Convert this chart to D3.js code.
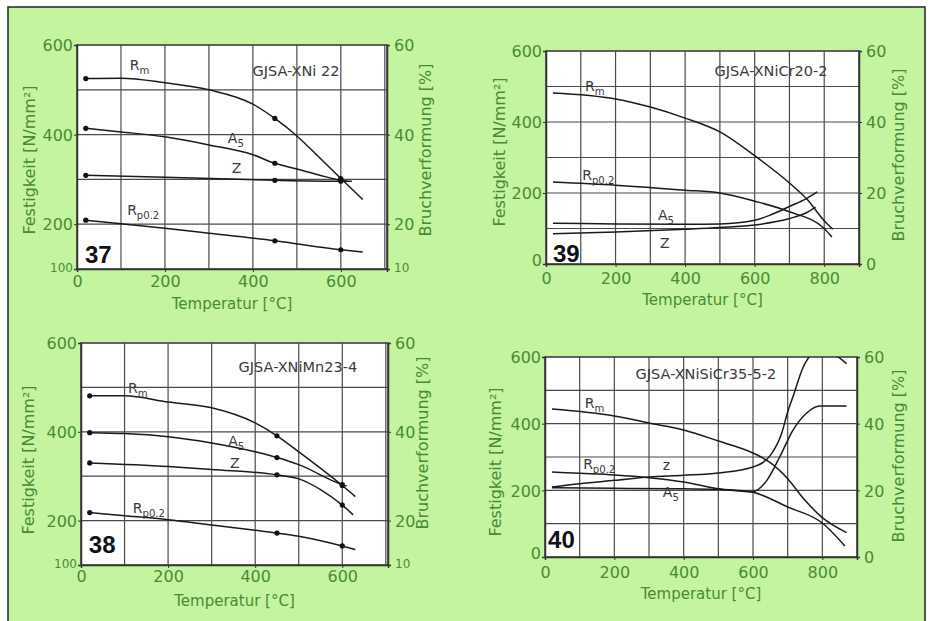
<!DOCTYPE html>
<html>
<head>
<meta charset="utf-8">
<title>Festigkeit und Bruchverformung austenitischer Gusseisen</title>
<script src="https://d3js.org/d3.v7.min.js"></script>
<style>
  body { margin: 0; background: #fff; }
  svg { display: block; }
  .tick { font-family: "DejaVu Sans", sans-serif; font-size: 16px; fill: #4a8a34; }
  .tick.small { font-size: 12px; }
  .atitle { font-family: "DejaVu Sans", sans-serif; fill: #4a8a34; }
  .grid { stroke: #4a4a4a; stroke-width: 1.2; }
  .frame { fill: #fff; stroke: #333; stroke-width: 1.5; }
  .curve { fill: none; stroke: #1a1a1a; stroke-width: 1.5; }
  .clabel { font-family: "DejaVu Sans", sans-serif; fill: #3a3a3a; }
  .num { font-family: "Liberation Sans", Arial, sans-serif; font-weight: bold; font-size: 24px; fill: #111; }
</style>
</head>
<body>
<script>
// ---- data: [Temperatur °C, Wert] ; Rm/Rp in N/mm², A5/Z in %
// 37  GJSA-XNi 22
const rm37 = [[20,525],[100,526],[200,516],[300,500],[400,468],[450,436],[500,397],[550,350],[600,302],[650,255]];
const rp37 = [[20,209],[100,201],[200,191],[300,180],[450,163],[600,143],[650,138]];
const a537 = [[20,41.4],[100,40.6],[200,39.5],[300,37.7],[400,35.5],[450,33.6],[500,32.3],[550,31],[600,29.8],[615,29.6]];
const z37  = [[20,30.9],[200,30.5],[450,29.8],[600,29.6],[625,29.6]];
const marks37 = [20, 450, 600];

// 38  GJSA-XNiMn23-4
const rm38 = [[20,481],[100,481],[200,467],[300,454],[400,420],[450,391],[500,355],[600,279],[630,254]];
const rp38 = [[20,218],[100,211],[200,202],[300,190],[400,178],[450,172],[500,165],[600,143],[630,135]];
const a538 = [[20,39.8],[100,39.6],[200,38.9],[300,37.5],[400,35.5],[450,34.2],[500,32.6],[600,28.1],[610,27.8]];
const z38  = [[20,33],[200,32.2],[300,31.5],[450,30.3],[500,29.4],[550,27],[600,23.5],[625,21.3]];
const marks38 = [20, 450, 600];

// 39  GJSA-XNiCr20-2
const rm39 = [[20,482],[200,465],[300,442],[400,411],[500,372],[600,305],[700,228],[750,183],[800,122],[825,98]];
const rp39 = [[20,231],[200,222],[400,208],[500,200],[600,177],[700,147],[800,100],[822,76]];
const a539 = [[20,11.5],[200,11.3],[400,11.2],[500,11.3],[600,12.3],[650,14],[700,16.2],[750,18.5],[780,20.3]];
const z39  = [[20,8.5],[200,9],[400,9.8],[500,10.3],[600,11],[700,12.8],[750,14.5],[775,16]];

// 40  GJSA-XNiSiCr35-5-2
const rm40 = [[20,444],[200,423],[300,402],[400,381],[500,348],[600,312],[650,283],[700,235],[750,170],[800,118],[870,73]];
const rp40 = [[20,255],[100,251],[200,246],[300,238],[400,225],[500,205],[600,194],[700,150],[800,102],[865,33]];
const a540 = [[20,20.8],[200,20.6],[400,20.5],[500,20.3],[600,19.6],[640,23],[677,30],[715,38],[755,43.2],[792,45.3],[870,45.3]];
const z40  = [[20,21],[100,22],[200,23],[300,24],[400,24.5],[500,25.2],[600,27],[650,30.5],[683,37.2],[700,43.5],[715,48],[745,57],[765,60.5],[800,63],[840,60.5],[870,58]];

// ticks
const xTicks600 = [0, 200, 400, 600];
const xTicks800 = [0, 200, 400, 600, 800];
const yTicksA = [600, 400, 200, 100];
const yTicksB = [600, 400, 200, 0];
const y2TicksA = [60, 40, 20, 10];
const y2TicksB = [60, 40, 20, 0];

const W = 931, H = 621;
const svg = d3.select('body').append('svg').attr('width', W).attr('height', H);

// green sheet with dark border (left, top, right)
svg.append('rect').attr('x', 8).attr('y', 7).attr('width', 917).attr('height', H - 7).attr('fill', '#c4f4a0');
svg.append('path').attr('d', 'M8,621V7H925V621').attr('fill', 'none').attr('stroke', '#222').attr('stroke-width', 1.5);

const panels = [
  { id: 37, title: 'GJSA-XNi 22', xr: [77, 387], yr: [269, 45], xd: [0, 705], yd: [100, 600], y2d: [10, 60],
    xt: xTicks600, yt: yTicksA, y2t: y2TicksA, smallBottom: true,
    rm: rm37, rp: rp37, a5: a537, z: z37, marks: marks37,
    lab: { rm: [120, 544], a5: [343, 381], z: [352, 314], rp: [114, 220], title: [498, 531], num: [18, 113] },
    tickY: 287, tTitleY: 309, leftT: [29, 160], rightT: [425, 150] },
  { id: 38, title: 'GJSA-XNiMn23-4', xr: [81, 388], yr: [565, 343], xd: [0, 705], yd: [100, 600], y2d: [10, 60],
    xt: xTicks600, yt: yTicksA, y2t: y2TicksA, smallBottom: true,
    rm: rm38, rp: rp38, a5: a538, z: z38, marks: marks38,
    lab: { rm: [108, 487], a5: [338, 368], z: [342, 318], rp: [119, 217], title: [498, 535], num: [18, 127] },
    tickY: 582, tTitleY: 606, leftT: [28, 460], rightT: [422, 443] },
  { id: 39, title: 'GJSA-XNiCr20-2', xr: [546, 859], yr: [264, 51], xd: [0, 900], yd: [0, 600], y2d: [0, 60],
    xt: xTicks800, yt: yTicksB, y2t: y2TicksB, smallBottom: false,
    rm: rm39, rp: rp39, a5: a539, z: z39, marks: [],
    lab: { rm: [112, 487], a5: [322, 124], z: [328, 45], rp: [104, 237], title: [647, 530], num: [20, 6] },
    tickY: 284, tTitleY: 305, leftT: [499, 152], rightT: [898, 155] },
  { id: 40, title: 'GJSA-XNiSiCr35-5-2', xr: [545, 857], yr: [557, 357], xd: [0, 900], yd: [0, 600], y2d: [0, 60],
    xt: xTicks800, yt: yTicksB, y2t: y2TicksB, smallBottom: false, zLower: true,
    rm: rm40, rp: rp40, a5: a540, z: z40, marks: [],
    lab: { rm: [115, 447], a5: [340, 180], z: [340, 261], rp: [110, 264], title: [464, 534], num: [9, 27] },
    tickY: 578, tTitleY: 599, leftT: [495, 462], rightT: [898, 456] }
];

panels.forEach(p => {
  const x = d3.scaleLinear().domain(p.xd).range(p.xr);
  const y = d3.scaleLinear().domain(p.yd).range(p.yr);
  const y2 = d3.scaleLinear().domain(p.y2d).range(p.yr);
  const g = svg.append('g');
  const [x0, x1] = p.xr, [yb, yt] = p.yr;

  g.append('rect').attr('class', 'frame').attr('x', x0).attr('y', yt).attr('width', x1 - x0).attr('height', yb - yt);

  // grid every 100
  const gx = d3.range(100, p.xd[1], 100);
  const gy = d3.range(p.yd[0] + 100, p.yd[1], 100);
  g.selectAll('.gx').data(gx).enter().append('line').attr('class', 'grid')
    .attr('x1', d => x(d)).attr('x2', d => x(d)).attr('y1', yt).attr('y2', yb);
  g.selectAll('.gy').data(gy).enter().append('line').attr('class', 'grid')
    .attr('x1', x0).attr('x2', x1).attr('y1', d => y(d)).attr('y2', d => y(d));

  // axes (ticks + labels)
  const axB = g.append('g').attr('transform', `translate(0,${yb})`)
    .call(d3.axisBottom(x).tickValues(p.xt).tickSize(3).tickFormat(d3.format('d')));
  const axL = g.append('g').attr('transform', `translate(${x0},0)`)
    .call(d3.axisLeft(y).tickValues(p.yt).tickSize(3).tickFormat(d3.format('d')));
  const axR = g.append('g').attr('transform', `translate(${x1},0)`)
    .call(d3.axisRight(y2).tickValues(p.y2t).tickSize(3).tickFormat(d3.format('d')));
  [axB, axL, axR].forEach(a => {
    a.select('.domain').attr('stroke', '#333').attr('stroke-width', 1.5);
    a.selectAll('.tick line').attr('stroke', '#333');
    a.selectAll('.tick text').attr('class', 'tick').attr('font-size', null).attr('font-family', null).attr('fill', null);
  });
  axB.selectAll('.tick text').attr('y', null).attr('dy', null).attr('transform', `translate(0,${p.tickY - yb})`);
  axL.selectAll('.tick text').attr('x', -4).attr('dy', '0.36em');
  axR.selectAll('.tick text').attr('x', 7).attr('dy', '0.36em');
  if (p.smallBottom) {
    axL.selectAll('.tick text').filter(d => d === 100).attr('class', 'tick small').attr('dy', '0.2em');
    axR.selectAll('.tick text').filter(d => d === 10).attr('class', 'tick small').attr('dy', '0.2em');
  } else {
    axL.selectAll('.tick text').filter(d => d === 0).attr('dy', '0.1em');
  }

  // axis titles
  g.append('text').attr('class', 'atitle').attr('font-size', 15).attr('text-anchor', 'middle')
    .attr('x', (x0 + x1) / 2).attr('y', p.tTitleY).text('Temperatur [°C]');
  g.append('text').attr('class', 'atitle').attr('font-size', 16).attr('text-anchor', 'middle')
    .attr('transform', `translate(${p.leftT[0]},${p.leftT[1]}) rotate(-90)`).attr('dy', '0.36em')
    .text('Festigkeit [N/mm²]');
  g.append('text').attr('class', 'atitle').attr('font-size', 16).attr('text-anchor', 'middle')
    .attr('transform', `translate(${p.rightT[0]},${p.rightT[1]}) rotate(-90)`).attr('dy', '0.36em')
    .text('Bruchverformung [%]');

  // curves
  const clipId = 'clip' + p.id;
  g.append('clipPath').attr('id', clipId).append('rect')
    .attr('x', x0).attr('y', yt).attr('width', x1 - x0).attr('height', yb - yt);
  const cg = g.append('g').attr('clip-path', `url(#${clipId})`);
  const lineL = d3.line().x(d => x(d[0])).y(d => y(d[1])).curve(d3.curveMonotoneX);
  const lineR = d3.line().x(d => x(d[0])).y(d => y2(d[1])).curve(d3.curveMonotoneX);
  const series = [
    { d: p.rm, l: lineL, s: y }, { d: p.rp, l: lineL, s: y },
    { d: p.a5, l: lineR, s: y2 }, { d: p.z, l: lineR, s: y2 }
  ];
  series.forEach(s => {
    cg.append('path').attr('class', 'curve').attr('d', s.l(s.d));
    cg.selectAll(null).data(s.d.filter(d => p.marks.includes(d[0]))).enter()
      .append('circle').attr('r', 2.6).attr('fill', '#111')
      .attr('cx', d => x(d[0])).attr('cy', d => s.s(d[1]));
  });

  // curve labels
  const lab = (pos, main, sub, size) => {
    const t = g.append('text').attr('class', 'clabel').attr('font-size', size)
      .attr('x', x(pos[0])).attr('y', y(pos[1]));
    t.append('tspan').text(main);
    if (sub) t.append('tspan').attr('font-size', size * 0.72).attr('dy', 4).text(sub);
  };
  lab(p.lab.rm, 'R', 'm', 14);
  lab(p.lab.rp, 'R', 'p0.2', 14);
  lab(p.lab.a5, 'A', '5', 14);
  lab(p.lab.z, p.zLower ? 'z' : 'Z', null, 14);
  g.append('text').attr('class', 'clabel').attr('font-size', 14.5).attr('text-anchor', 'middle')
    .attr('x', x(p.lab.title[0])).attr('y', y(p.lab.title[1])).text(p.title);
  g.append('text').attr('class', 'num')
    .attr('x', x(p.lab.num[0])).attr('y', y(p.lab.num[1])).text(p.id);
});
</script>
</body>
</html>
